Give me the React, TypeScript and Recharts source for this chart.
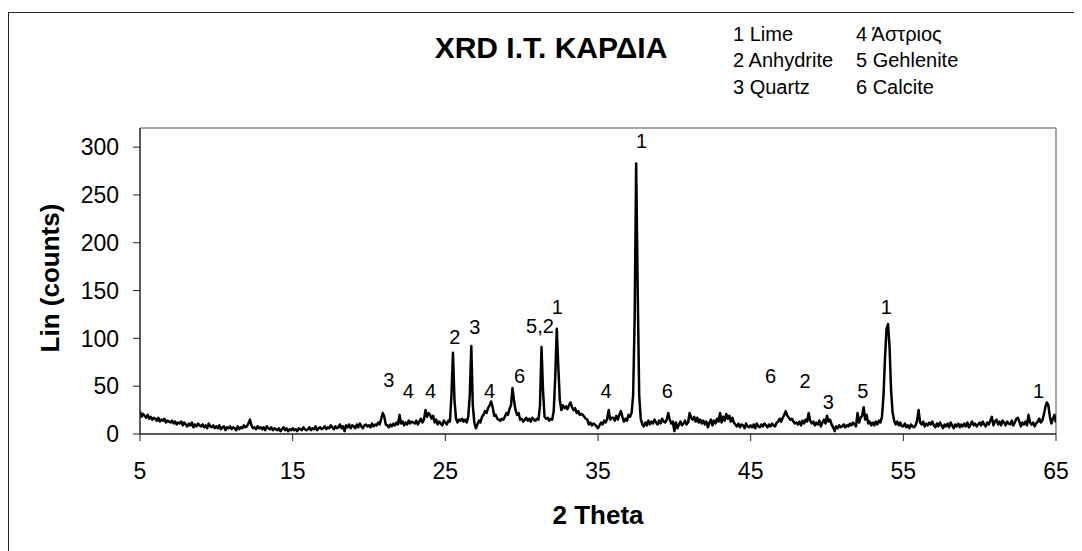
import { LineChart, Line, XAxis, YAxis, ReferenceLine, ReferenceDot } from 'recharts';

// scan grid of the diffractogram (degrees 2-theta)
const scanStart = 5;
const scanStep = 0.1;

// counts, one row per degree
const counts5to15 = [
  24, 18, 21, 19, 17, 20, 16, 18, 15, 17,
  16, 14, 17, 13, 15, 14, 16, 12, 14, 13,
  12, 14, 11, 13, 10, 12, 11, 13, 9, 12,
  10, 8, 11, 9, 12, 7, 10, 8, 11, 9,
  8, 10, 7, 9, 6, 11, 8, 7, 9, 6,
  8, 6, 9, 5, 7, 8, 4, 7, 6, 8,
  5, 7, 6, 4, 8, 5, 7, 6, 9, 7,
  8, 11, 15, 9, 6, 7, 5, 8, 6, 7,
  5, 7, 4, 8, 6, 5, 7, 4, 6, 5,
  4, 6, 3, 5, 7, 4, 6, 3, 5, 4,
];
const counts15to25 = [
  6, 4, 5, 3, 6, 5, 4, 7, 5, 4,
  5, 7, 4, 6, 5, 8, 4, 6, 7, 5,
  6, 8, 5, 7, 6, 9, 7, 5, 8, 6,
  7, 10, 6, 8, 3, 9, 7, 10, 6, 9,
  8, 6, 10, 7, 11, 8, 6, 9, 10, 8,
  9, 7, 11, 8, 10, 9, 12, 10, 16, 22,
  18, 10, 9, 7, 10, 8, 11, 9, 12, 10,
  20, 11, 13, 9, 12, 10, 14, 11, 13, 12,
  11, 14, 10, 13, 16, 12, 15, 25, 18, 22,
  20, 16, 19, 12, 15, 10, 13, 11, 9, 14,
];
const counts25to35 = [
  12, 10, 14, 13, 40, 85, 35, 16, 12, 15,
  14, 16, 13, 15, 12, 18, 40, 92, 30, 12,
  6, 10, 14, 12, 18, 20, 24, 22, 27, 30,
  34, 28, 19, 20, 16, 15, 14, 16, 15, 18,
  22, 20, 26, 30, 48, 35, 25, 20, 22, 15,
  16, 13, 15, 17, 14, 16, 13, 17, 15, 14,
  16, 15, 30, 91, 45, 18, 16, 17, 14, 16,
  15, 24, 60, 110, 70, 35, 25, 30, 27, 29,
  26, 30, 33, 28, 25, 27, 22, 24, 20, 21,
  20, 18, 16, 15, 10, 12, 9, 11, 10, 8,
];
const counts35to45 = [
  6, 9, 12, 10, 14, 12, 16, 25, 15, 17,
  17, 14, 19, 15, 20, 24, 18, 13, 16, 14,
  20, 18, 22, 40, 120, 283, 150, 40, 16, 10,
  8, 12, 9, 14, 10, 13, 11, 15, 12, 10,
  14, 11, 16, 13, 12, 15, 22, 15, 11, 13,
  3, 12, 6, 10, 13, 9, 11, 14, 10, 12,
  22, 17, 15, 18, 13, 17, 12, 15, 11, 14,
  10, 13, 7, 12, 15, 9, 14, 11, 16, 13,
  22, 12, 18, 14, 21, 16, 19, 13, 17, 12,
  10, 8, 11, 7, 10, 9, 6, 11, 8, 7,
];
const counts45to55 = [
  9, 7, 10, 6, 11, 8, 7, 10, 8, 11,
  9, 7, 10, 8, 11, 9, 8, 12, 13, 16,
  13, 17, 20, 24, 19, 17, 15, 16, 13, 11,
  12, 10, 13, 9, 14, 11, 15, 13, 22, 14,
  11, 13, 9, 12, 10, 14, 8, 12, 15, 11,
  19, 13, 15, 10, 7, 3, 8, 6, 9, 7,
  8, 10, 7, 9, 8, 11, 9, 12, 10, 8,
  22, 12, 17, 19, 28, 15, 20, 11, 13, 9,
  12, 9, 13, 10, 14, 12, 18, 40, 80, 110,
  115, 90, 45, 22, 14, 10, 13, 9, 12, 8,
];
const counts55to65 = [
  8, 11, 7, 9, 6, 10, 8, 7, 9, 14,
  25, 12, 10, 13, 8, 11, 9, 12, 10, 13,
  9, 7, 11, 8, 12, 9, 6, 10, 8, 11,
  7, 12, 9, 6, 10, 8, 11, 7, 10, 8,
  11, 8, 12, 7, 10, 13, 9, 11, 8, 10,
  12, 9, 13, 10, 8, 12, 10, 14, 18, 9,
  13, 15, 10, 13, 9, 14, 12, 9, 13, 11,
  10, 14, 9, 12, 16, 17, 13, 8, 12, 10,
  13, 9, 20, 12, 10, 12, 8, 11, 13, 16,
  12, 14, 20, 28, 33, 30, 18, 11, 16, 20,
  12,
];

const xTicks = [5, 15, 25, 35, 45, 55, 65];
const yTicks = [0, 50, 100, 150, 200, 250, 300];

const phaseNames = ['1 Lime', '2 Anhydrite', '3 Quartz'];
const phaseNames2 = ['4 Άστριος', '5 Gehlenite', '6 Calcite'];

// phase number written above each reflection (2-theta, counts)
const peakTexts = ['3', '4', '4', '2', '3', '4', '6', '5,2', '1', '4', '1', '6', '6', '2', '3', '5', '1', '1'];
const peakThetas = [21.29, 22.57, 24.04, 25.62, 26.93, 27.89, 29.87, 31.2, 32.34, 35.52, 37.85, 39.54, 46.31, 48.57, 50.08, 52.34, 53.88, 63.86];
const peakHeights = [57, 45, 45, 102, 112, 45, 61, 113, 133, 45, 307, 45, 61, 56, 34, 45, 133, 45];

const allCounts = [...counts5to15, ...counts15to25, ...counts25to35, ...counts35to45, ...counts45to55, ...counts55to65];
const data = allCounts.map((c, i) => ({ theta: Math.round((scanStart + i * scanStep) * 10) / 10, counts: c }));

const font = 'Arial, "Liberation Sans", sans-serif';

export default function App() {
  return (
    <div style={{ position: 'relative', width: 1074, height: 543, overflow: 'hidden', fontFamily: font, color: '#000' }}>
      <div style={{ position: 'absolute', left: 0, top: 4, width: 1300, height: 800, border: '1.5px solid #222' }} />

      <div style={{ position: 'absolute', left: 543, top: 40, transform: 'translate(-50%, -50%)', fontSize: 30, fontWeight: 'bold', whiteSpace: 'nowrap' }}>
        XRD I.T. ΚΑΡΔΙΑ
      </div>

      <div style={{ position: 'absolute', left: 725, top: 13, fontSize: 20, lineHeight: '26.4px', whiteSpace: 'nowrap' }}>
        {phaseNames.map((n) => <div key={n}>{n}</div>)}
      </div>
      <div style={{ position: 'absolute', left: 848, top: 13, fontSize: 20, lineHeight: '26.4px', whiteSpace: 'nowrap' }}>
        {phaseNames2.map((n) => <div key={n}>{n}</div>)}
      </div>

      <div style={{ position: 'absolute', left: 42, top: 270, transform: 'translate(-50%, -50%) rotate(-90deg)', fontSize: 26, fontWeight: 'bold', whiteSpace: 'nowrap' }}>
        Lin (counts)
      </div>
      <div style={{ position: 'absolute', left: 590, top: 507, transform: 'translate(-50%, -50%)', fontSize: 26, fontWeight: 'bold', whiteSpace: 'nowrap' }}>
        2 Theta
      </div>

      <div style={{ position: 'absolute', left: 0, top: 0 }}>
        <LineChart width={1074} height={543} data={data} margin={{ top: 120, right: 26, left: 0, bottom: 0 }}>
          <XAxis
            dataKey="theta"
            type="number"
            domain={[5, 65]}
            ticks={xTicks}
            allowDataOverflow
            height={117}
            tickSize={7}
            tickMargin={22}
            axisLine={{ stroke: '#222', strokeWidth: 1.5 }}
            tickLine={{ stroke: '#222' }}
            tick={{ fontSize: 23, fill: '#000', fontFamily: font }}
          />
          <YAxis
            type="number"
            domain={[0, 320]}
            ticks={yTicks}
            allowDataOverflow
            width={132}
            tickSize={7}
            tickMargin={14}
            axisLine={{ stroke: '#222', strokeWidth: 1.5 }}
            tickLine={{ stroke: '#222' }}
            tick={{ fontSize: 23, fill: '#000', fontFamily: font }}
          />
          <ReferenceLine y={320} stroke="#888" strokeWidth={1.5} />
          <ReferenceLine x={65} stroke="#888" strokeWidth={1.5} />
          <Line
            type="linear"
            dataKey="counts"
            stroke="#000"
            strokeWidth={2.5}
            strokeLinejoin="round"
            dot={false}
            isAnimationActive={false}
          />
          {peakTexts.map((t, i) => (
            <ReferenceDot
              key={i}
              x={peakThetas[i]}
              y={peakHeights[i]}
              r={0}
              fill="none"
              stroke="none"
              label={{ value: t, position: 'center', fontSize: 20, fill: '#000', fontFamily: font }}
            />
          ))}
        </LineChart>
      </div>
    </div>
  );
}
